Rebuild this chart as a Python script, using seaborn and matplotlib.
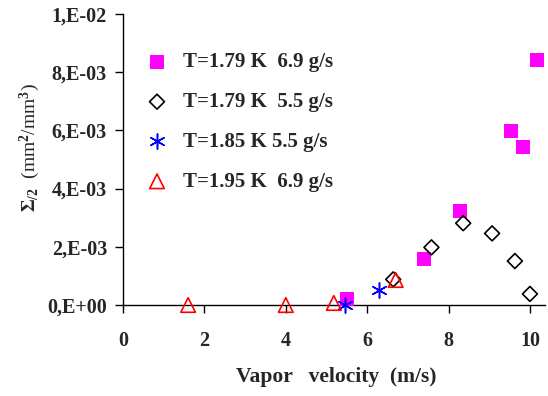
import matplotlib
matplotlib.use("Agg")
import matplotlib.pyplot as plt
import seaborn as sns
import numpy as np
from matplotlib.ticker import FixedLocator, FixedFormatter

sns.set_style("white")
plt.rcParams['font.family'] = ['Liberation Serif', 'DejaVu Serif']
plt.rcParams['font.weight'] = 'bold'
plt.rcParams['mathtext.fontset'] = 'custom'
plt.rcParams['mathtext.rm'] = 'Liberation Serif:bold'
plt.rcParams['mathtext.it'] = 'Liberation Serif:bold'
plt.rcParams['mathtext.bf'] = 'Liberation Serif:bold'

# data
sq_x = [5.51, 7.40, 8.28, 9.53, 9.83, 10.17]
sq_y = [0.20e-3, 1.58e-3, 3.24e-3, 5.98e-3, 5.43e-3, 8.42e-3]
dm_x = [6.64, 7.58, 8.36, 9.07, 9.63, 10.0]
dm_y = [0.88e-3, 1.98e-3, 2.81e-3, 2.46e-3, 1.51e-3, 0.38e-3]
st_x = [5.45, 6.29]
st_y = [0.0, 0.52e-3]
tr_x = [1.6, 4.0, 5.18, 6.70]
tr_y = [0.0, 0.0, 0.07e-3, 0.86e-3]
labels = ["T=1.79 K  6.9 g/s", "T=1.79 K  5.5 g/s", "T=1.85 K 5.5 g/s", "T=1.95 K  6.9 g/s"]
xticks = [0, 2, 4, 6, 8, 10]
yticks = [0, 2e-3, 4e-3, 6e-3, 8e-3, 1e-2]
ytick_labels = ["0,E+00", "2,E-03", "4,E-03", "6,E-03", "8,E-03", "1,E-02"]

fig = plt.figure(figsize=(5.48, 3.96), dpi=100)
ax = fig.add_axes([0.2245, 0.2298, 0.770, 0.735])

sns.scatterplot(x=sq_x, y=sq_y, ax=ax, marker='s', s=10.5**2, color='#ff00ff',
                edgecolor='#ff00ff', linewidth=0, clip_on=False, label=labels[0], zorder=3)
sns.scatterplot(x=dm_x, y=dm_y, ax=ax, marker='D', s=7.6**2, facecolor='none',
                edgecolor='black', linewidth=1.2, clip_on=False, label=labels[1], zorder=4)
sns.scatterplot(x=st_x, y=st_y, ax=ax, marker=(6, 2, 0), s=11**2, color='blue',
                linewidth=1.1, clip_on=False, label=labels[2], zorder=5)
sns.scatterplot(x=tr_x, y=tr_y, ax=ax, marker='^', s=10.5**2, facecolor='none',
                edgecolor='red', linewidth=1.2, clip_on=False, label=labels[3], zorder=6)

ax.set_xlim(0, 10.37)
ax.set_ylim(0, 0.01)
ax.xaxis.set_major_locator(FixedLocator(xticks))
ax.yaxis.set_major_locator(FixedLocator(yticks))
ax.yaxis.set_major_formatter(FixedFormatter(ytick_labels))
for s in ['top', 'right']:
    ax.spines[s].set_visible(False)
for s in ['left', 'bottom']:
    ax.spines[s].set_color('black')
    ax.spines[s].set_linewidth(1.0)
ax.tick_params(axis='both', direction='out', length=5.5, width=1, color='black',
               labelsize=14.5, left=True, bottom=True)
ax.tick_params(axis='y', pad=6)
ax.tick_params(axis='x', pad=13)
for t in ax.get_xticklabels() + ax.get_yticklabels():
    t.set_fontweight('bold')

ax.set_xlabel("Vapor   velocity  (m/s)", fontsize=15.5, fontweight='bold')
ax.xaxis.set_label_coords(0.505, -0.213)
ax.set_ylabel(r"$\Sigma_{/2}$  (mm$^{2}$/mm$^{3}$)", fontsize=14)
ax.yaxis.set_label_coords(-0.192, 0.54)

leg = ax.legend(loc='upper left', bbox_to_anchor=(0.0509, 0.868), frameon=False,
                prop={'family': 'Liberation Serif', 'weight': 'bold', 'size': 15},
                labelspacing=0.95, handlelength=1.2, handletextpad=0.65,
                borderaxespad=0, borderpad=0)

fig.savefig("out.png", dpi=100)
